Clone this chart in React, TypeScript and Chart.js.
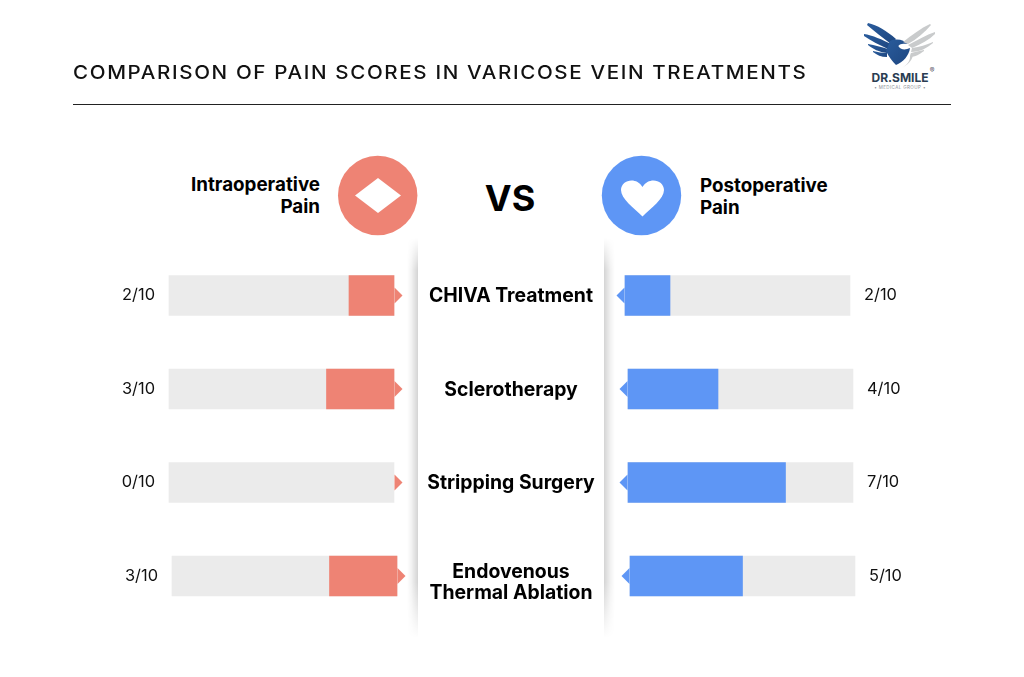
import React, { useEffect, useRef } from "react";
import { Chart, registerables } from "chart.js";

Chart.register(...registerables);

const treatments: (string | string[])[] = [
  "CHIVA Treatment",
  "Sclerotherapy",
  "Stripping Surgery",
  ["Endovenous", "Thermal Ablation"],
];
const intraoperative = [2, 3, 0, 3];
const postoperative = [2, 4, 7, 5];
const scaleMax = 10;
const track = [scaleMax, scaleMax, scaleMax, scaleMax];

const titleText = "COMPARISON OF PAIN SCORES IN VARICOSE VEIN TREATMENTS";
const leftHeading = ["Intraoperative", "Pain"];
const rightHeading = ["Postoperative", "Pain"];

const RED = "#EE8374";
const BLUE = "#5E96F5";
const GREY = "#EBEBEB";

const FONT = "Inter, 'Noto Sans', sans-serif";

type Side = {
  values: number[];
  color: string;
  reverse: boolean;
  padLeft: number;
  padRight: number;
  shifts: number[];
  drawCenter: boolean;
};

const LEFT: Side = {
  values: intraoperative,
  color: RED,
  reverse: true,
  padLeft: 169,
  padRight: 1024 - 394,
  shifts: [0, 0, 0, 3],
  drawCenter: true,
};
const RIGHT: Side = {
  values: postoperative,
  color: BLUE,
  reverse: false,
  padLeft: 625,
  padRight: 1024 - 850,
  shifts: [0, 3, 3, 5],
  drawCenter: false,
};

function sidePlugin(side: Side) {
  return {
    id: "sideDecor",
    afterDatasetsUpdate(chart: any) {
      chart.data.datasets.forEach((_: any, i: number) => {
        chart.getDatasetMeta(i).data.forEach((el: any, j: number) => {
          el.x += side.shifts[j];
          el.base += side.shifts[j];
        });
      });
    },
    afterDatasetsDraw(chart: any) {
      const ctx = chart.ctx;
      const x = chart.scales.x;
      const y = chart.scales.y;
      const dir = side.reverse ? 1 : -1;
      ctx.save();
      side.values.forEach((v, i) => {
        const cy = y.getPixelForValue(i);
        const zero = x.getPixelForValue(0) + side.shifts[i];
        const full = x.getPixelForValue(scaleMax) + side.shifts[i];
        // arrowhead at the zero end of the bar
        ctx.fillStyle = side.color;
        ctx.beginPath();
        ctx.moveTo(zero + dir * 0.5, cy - 8);
        ctx.lineTo(zero + dir * 8.5, cy);
        ctx.lineTo(zero + dir * 0.5, cy + 8);
        ctx.closePath();
        ctx.fill();
        // score label beyond the far end of the track
        ctx.fillStyle = "#111";
        ctx.font = `400 16.4px ${FONT}`;
        ctx.textBaseline = "middle";
        ctx.textAlign = side.reverse ? "right" : "left";
        ctx.fillText(`${v}/${scaleMax}`, full - dir * 14, cy);
      });
      if (side.drawCenter) {
        ctx.fillStyle = "#000";
        ctx.font = `700 19.4px ${FONT}`;
        ctx.textAlign = "center";
        ctx.textBaseline = "middle";
        treatments.forEach((label, i) => {
          const cy = y.getPixelForValue(i) + 0.8;
          const lines = Array.isArray(label) ? label : [label];
          lines.forEach((line, k) => {
            const dy = lines.length > 1 ? 6 + (k - 0.5) * 21.5 : 0;
            ctx.fillText(line, 511, cy + dy);
          });
        });
      }
      ctx.restore();
    },
  };
}

function makeChart(canvas: HTMLCanvasElement, side: Side) {
  return new Chart(canvas, {
    type: "bar",
    data: {
      labels: treatments as any,
      datasets: [
        {
          data: side.values,
          backgroundColor: (c: any) => (c.raw === 0 ? "rgba(0,0,0,0)" : side.color),
          order: 0,
          clip: false,
        },
        { data: track, backgroundColor: GREY, order: 1, clip: false },
      ],
    },
    options: {
      indexAxis: "y",
      responsive: false,
      animation: false,
      maintainAspectRatio: false,
      layout: {
        padding: { left: side.padLeft, right: side.padRight, top: 248.75, bottom: 677 - 622.75 },
      },
      datasets: { bar: { grouped: false, barThickness: 40, borderWidth: 0 } },
      scales: {
        x: { display: false, min: 0, max: scaleMax, reverse: side.reverse },
        y: { display: false },
      },
      plugins: { legend: { display: false }, tooltip: { enabled: false }, title: { display: false } },
    } as any,
    plugins: [sidePlugin(side)],
  });
}

const abs = (s: React.CSSProperties): React.CSSProperties => ({ position: "absolute", ...s });

function Shadow({ left, flip }: { left: number; flip: boolean }) {
  const mask = "linear-gradient(to bottom, transparent 0%, #000 8%, #000 86%, transparent 100%)";
  return (
    <div
      style={abs({
        left,
        top: 238,
        width: 11,
        height: 400,
        background: `linear-gradient(to ${flip ? "left" : "right"}, rgba(0,0,0,0), rgba(0,0,0,0.05) 40%, rgba(0,0,0,0.17))`,
        WebkitMaskImage: mask,
        maskImage: mask,
      })}
    />
  );
}

function Logo() {
  const grey = "#C9CBCC";
  return (
    <svg style={abs({ left: 850, top: 15 })} width={100} height={80} viewBox="0 0 100 80">
      <defs>
        <linearGradient id="wing" x1="0" y1="0" x2="1" y2="1">
          <stop offset="0" stopColor="#2A5C9C" />
          <stop offset="1" stopColor="#1D4680" />
        </linearGradient>
      </defs>
      <g fill="url(#wing)">
        <path d="M18 8 C27 10 37 16 46 24 L41 29 C32 22 24 16 17 10Z" />
        <path d="M14 19 C22 20 33 25 41 29 L38 34 C30 30 21 26 14 21Z" />
        <path d="M18 29 C25 30 31 32 38 34 L37 38 C29 37 23 34 18 30Z" />
        <path d="M23 36 C28 37 32 38 37 38 L37 42 C31 42 27 40 23 37Z" />
        <path d="M40 26 C47 23 54 25 58 29 C52 28 47 30 49 32 C51 35 56 35 60 33 C59 41 53 47 46 50 C42 46 39 42 36 36Z" />
      </g>
      <g fill={grey}>
        <path d="M80 9 C71 13 62 20 53 27 L58 29 C67 24 75 17 81 10Z" />
        <path d="M85 17 C76 20 68 25 58 30 L62 33 C71 29 79 25 85 19Z" />
        <path d="M83 27 C76 30 70 32 62 33 L61 37 C70 37 77 33 83 28Z" />
        <path d="M74 35 C69 36 65 37 61 38 L60 42 C65 42 70 39 74 36Z" />
        <path d="M61 38 L60 42 C60 46 57 50 52 53 C57 50 62 46 63 40Z" />
      </g>
      <text x={50} y={67} textAnchor="middle" fontFamily={FONT} fontWeight={700} fontSize={12} fill="#2A3D52">
        DR.SMILE
      </text>
      <text x={82} y={58} textAnchor="middle" fontFamily={FONT} fontSize={7} fill="#556">
        ®
      </text>
      <text x={50} y={74} textAnchor="middle" fontFamily={FONT} fontSize={4.5} letterSpacing={0.4} fill="#8A8F96">
        • MEDICAL GROUP •
      </text>
    </svg>
  );
}

const headingStyle: React.CSSProperties = {
  fontFamily: FONT,
  fontWeight: 700,
  fontSize: 18.8,
  lineHeight: "21.5px",
  color: "#000",
  whiteSpace: "pre",
};

export default function App() {
  const leftRef = useRef<HTMLCanvasElement>(null);
  const rightRef = useRef<HTMLCanvasElement>(null);

  useEffect(() => {
    const a = makeChart(leftRef.current!, LEFT);
    const b = makeChart(rightRef.current!, RIGHT);
    return () => {
      a.destroy();
      b.destroy();
    };
  }, []);

  return (
    <div style={abs({ left: 0, top: 0, width: 1024, height: 677, background: "#fff", overflow: "hidden" })}>
      <div
        style={abs({
          left: 73,
          top: 62,
          fontFamily: FONT,
          fontWeight: 500,
          fontSize: 19,
          lineHeight: "22px",
          letterSpacing: "1.5px",
          color: "#111",
          whiteSpace: "pre",
          transform: "scaleX(1.084)",
          transformOrigin: "left center",
        })}
      >
        {titleText}
      </div>
      <div style={abs({ left: 73, top: 104, width: 878, height: 1, background: "#222" })} />
      <Logo />

      <div style={abs({ ...headingStyle, right: 1024 - 320, top: 174, textAlign: "right" })}>
        {leftHeading.join("\n")}
      </div>
      <div style={abs({ ...headingStyle, left: 700, top: 175 })}>{rightHeading.join("\n")}</div>
      <div
        style={abs({
          left: 460,
          width: 100,
          top: 174,
          textAlign: "center",
          fontFamily: FONT,
          fontWeight: 700,
          fontSize: 36,
          lineHeight: "48px",
          color: "#000",
        })}
      >
        VS
      </div>

      <svg style={abs({ left: 0, top: 0 })} width={1024} height={240}>
        <circle cx={377.7} cy={195.5} r={39.7} fill={RED} />
        <path d="M355 195.5 L378 178 L401 195.5 L378 213 Z" fill="#fff" />
        <circle cx={641.5} cy={195.5} r={39.7} fill={BLUE} />
        <path
          d="M642.5 216.5 C634 208 621 199 621 190 C621 180 636 176 642.5 187 C649 176 664 180 664 190 C664 199 651 208 642.5 216.5 Z"
          fill="#fff"
        />
      </svg>

      <Shadow left={407} flip={false} />
      <Shadow left={604} flip={true} />

      <canvas ref={leftRef} width={1024} height={677} style={abs({ left: 0, top: 0, width: 1024, height: 677 })} />
      <canvas ref={rightRef} width={1024} height={677} style={abs({ left: 0, top: 0, width: 1024, height: 677 })} />
    </div>
  );
}
